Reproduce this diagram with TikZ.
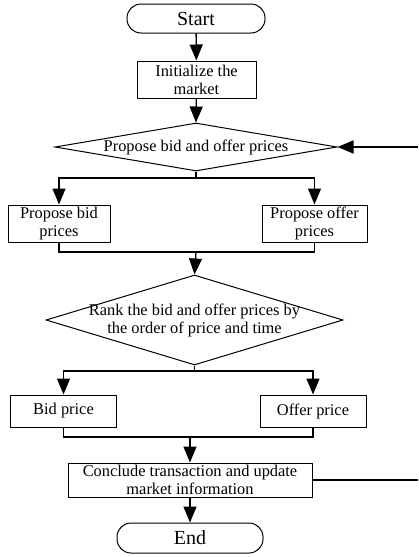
\documentclass[tikz,border=0pt]{standalone}
\usepackage{fontspec}
\setmainfont{Liberation Serif}
\usetikzlibrary{arrows.meta,shapes.geometric}

\begin{document}
\begin{tikzpicture}[x=1pt, y=-1pt,
    every node/.style={font=\fontsize{16.4}{18}\selectfont},
    box/.style={draw, line width=1pt, rectangle, align=center, inner sep=0pt},
    term/.style={box, rounded corners=14pt, font=\fontsize{20}{22}\selectfont},
    decision/.style={draw, line width=1pt, diamond, inner sep=0pt},
    dtext/.style={align=center, inner sep=0pt},
    line/.style={line width=1.3pt},
    arr/.style={line, -{Triangle[length=16pt, width=13pt]}}]
        % Page frame
        \useasboundingbox (0,0) rectangle (418,557);

        % Terminals and process boxes
        \node[term, minimum width=138pt, minimum height=29pt] (start) at (196,18.5) {Start};
        \node[box, minimum width=119pt, minimum height=37pt] (init) at (196.5,79.5) {Initialize the\\market};

        % First decision
        \node[decision, minimum width=282pt, minimum height=48pt] (propose) at (196,147) {};
        \node[dtext] at (propose.center) {Propose bid and offer prices};

        \node[box, minimum width=102pt, minimum height=37pt] (bid) at (59,223.5) {Propose bid\\prices};
        \node[box, minimum width=105pt, minimum height=37pt] (offer) at (314.5,223.5) {Propose offer\\prices};

        % Second decision
        \node[decision, minimum width=297pt, minimum height=90pt] (rank) at (194.5,320) {};
        \node[dtext] at (rank.center) {Rank the bid and offer prices by\\the order of price and time};

        \node[box, minimum width=106pt, minimum height=32pt] (bidp) at (63.5,411) {Bid price};
        \node[box, minimum width=106pt, minimum height=32pt] (offerp) at (313,411) {Offer price};

        \node[box, minimum width=244pt, minimum height=34pt] (conclude) at (190,480) {Conclude transaction and update\\market information};
        \node[term, minimum width=146pt, minimum height=30pt] (end) at (190,538) {End};

        % Junctions and feedback ends
        \coordinate (split1) at (196,178);
        \coordinate (merge1) at (196,252);
        \coordinate (split2) at (194.5,371);
        \coordinate (merge2) at (190,437);
        \coordinate (fbout) at (418,480);
        \coordinate (fbin) at (418,147);

        % Connectors
        \draw[arr] (start) -- (init);
        \draw[arr] (init) -- (propose.north);
        \draw[line] (propose.south) -- (split1);
        \draw[arr] (split1) -| (bid.north);
        \draw[arr] (split1) -| (offer.north);
        \draw[line] (bid.south) |- (merge1) -| (offer.south);
        \draw[arr] (merge1) -- (rank.north);
        \draw[line] (rank.south) -- (split2);
        \draw[arr] (split2) -| (bidp.north);
        \draw[arr] (split2) -| (offerp.north);
        \draw[line] (bidp.south) |- (merge2) -| (offerp.south);
        \draw[arr] (merge2) -- (conclude.north);
        \draw[arr] (conclude) -- (end);

        % Feedback
        \draw[line] (conclude.east) -- (fbout);
        \draw[arr] (fbin) -- (propose.east);
    \end{tikzpicture}
\end{document}
